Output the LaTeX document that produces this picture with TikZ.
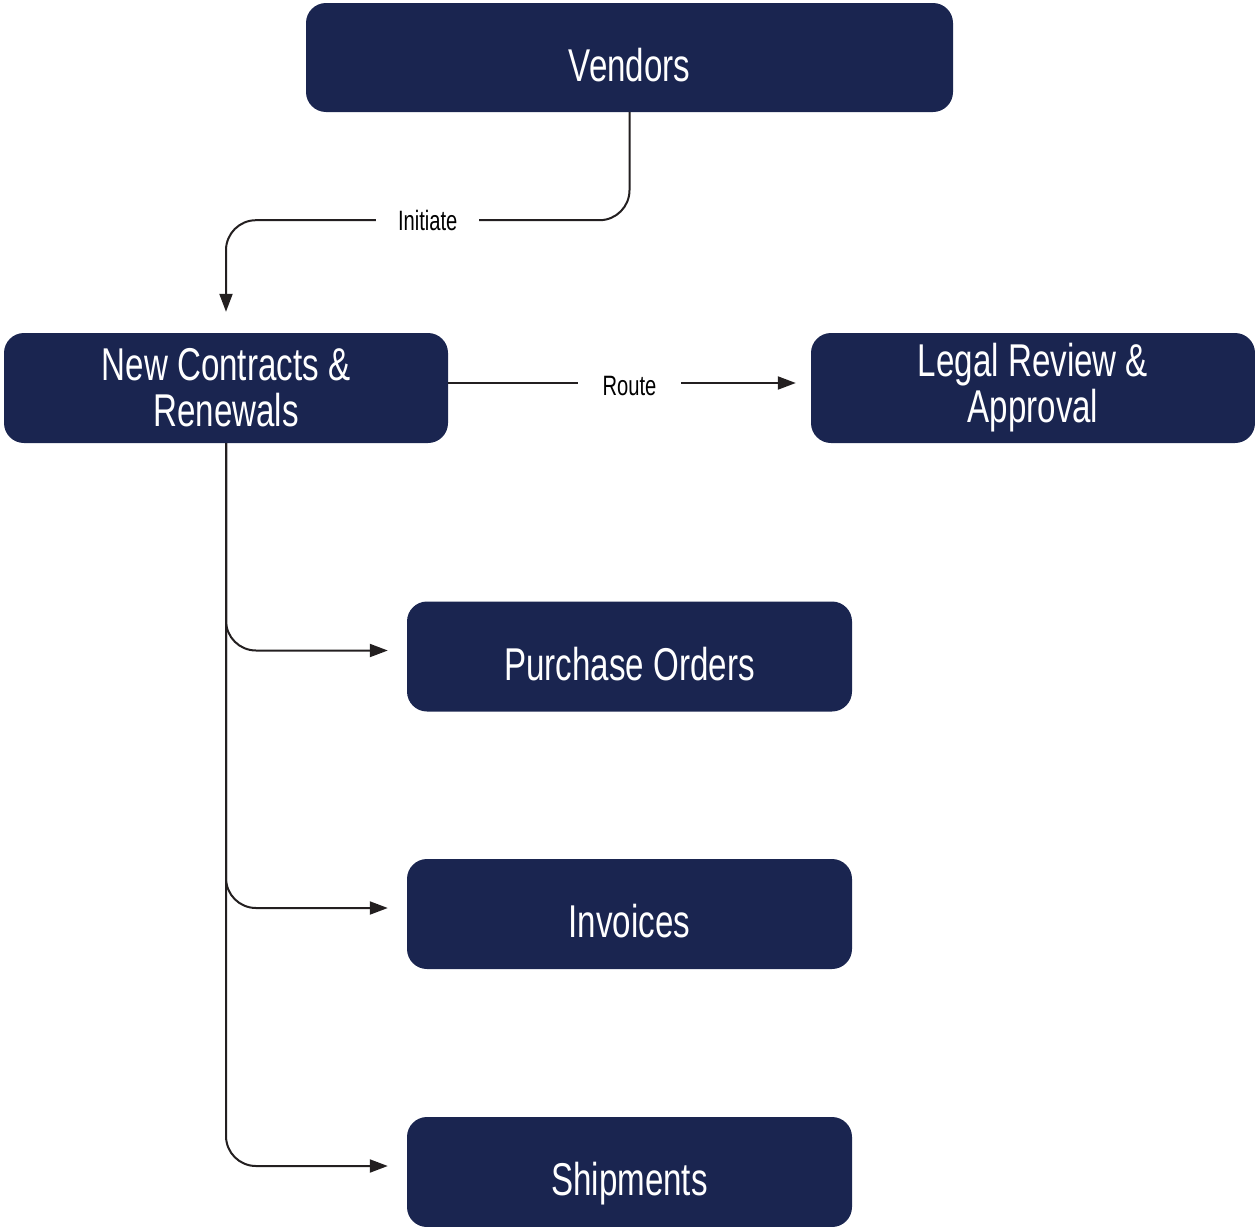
\documentclass[tikz,border=0pt]{standalone}
\usepackage{fontspec}
\setmainfont{Liberation Sans}[FakeStretch=0.72]
\usetikzlibrary{arrows.meta,positioning}
\definecolor{boxColor}{HTML}{1A2550}
\definecolor{lineColor}{HTML}{231F20}
\tikzset{flow box/.style={fill=boxColor, text=white, rounded corners=20pt, inner sep=0pt,
		minimum width=444pt, minimum height=110pt, align=center,
		font=\fontsize{46}{46}\selectfont}}
\tikzset{one line/.style={text height=47pt, text depth=0pt}}
\tikzset{flow line/.style={draw=lineColor, line width=2pt, rounded corners=30pt,
		-{Triangle[length=18pt,width=13pt]}}}
\tikzset{flow label/.style={fill=white, inner sep=4pt, minimum width=103pt, text=black,
		text height=20pt, text depth=0pt, font=\fontsize{28}{28}\selectfont, sharp corners}}

\begin{document}
\begin{tikzpicture}[x=1pt,y=-1pt]
	\useasboundingbox (0,0) rectangle (1255,1226);
	\node[flow box, one line, minimum width=647pt, minimum height=109pt] at (629.5,57.5) (vendors) {Vendors};
	\node[flow box] at (226,388) (contracts) {New Contracts \&\\Renewals};
	\node[flow box] at (1033,388) (legal) {Legal Review \&\\Approval};
	\node[flow box, one line, minimum width=445pt] at (629.5,656.5) (po) {Purchase Orders};
	\node[flow box, one line, minimum width=445pt] at (629.5,914) (invoices) {Invoices};
	\node[flow box, one line, minimum width=445pt] at (629.5,1172) (shipments) {Shipments};
	% connectors
	\draw[flow line, shorten >=21pt] (vendors.south) -- ++(0,108) -| node[flow label, pos=0.25] {Initiate} (contracts.north);
	\draw[flow line, shorten >=15pt] ([yshift=5pt]contracts.east) -- node[flow label, yshift=-2pt] {Route} ([yshift=5pt]legal.west);
	\draw[flow line, shorten >=19pt] (contracts.south) |- ([yshift=6pt]po.west);
	\draw[flow line, shorten >=19pt] (contracts.south) |- ([yshift=6pt]invoices.west);
	\draw[flow line, shorten >=19pt] (contracts.south) |- ([yshift=6pt]shipments.west);
\end{tikzpicture}
\end{document}
